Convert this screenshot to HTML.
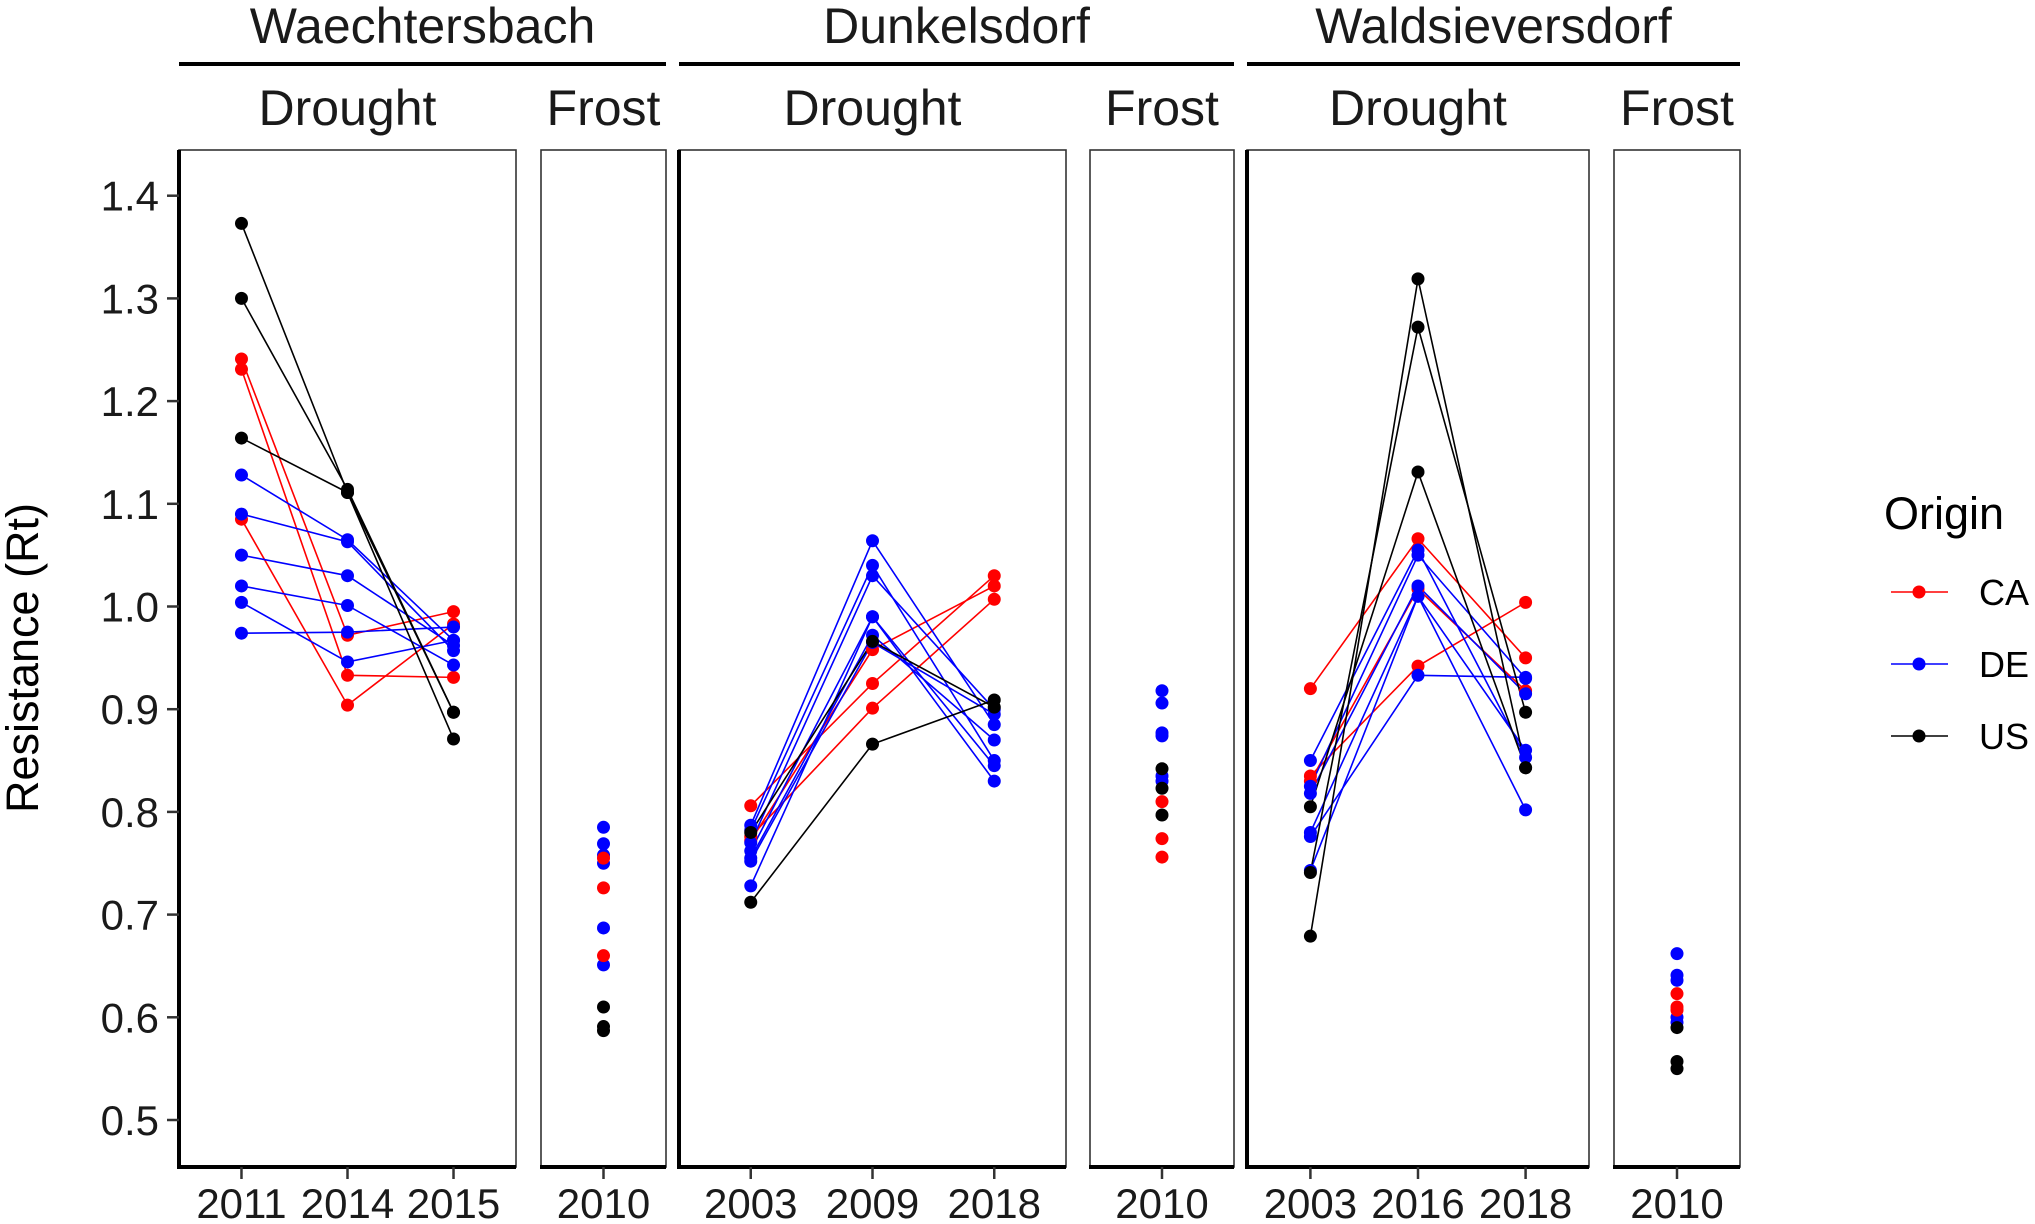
<!DOCTYPE html>
<html><head><meta charset="utf-8"><style>
html,body{margin:0;padding:0;background:#fff}
svg{display:block;font-family:"Liberation Sans",Arial,sans-serif}
</style></head><body>
<svg id="chart" width="2035" height="1224" viewBox="0 0 2035 1224" xmlns="http://www.w3.org/2000/svg">
<text transform="translate(38,658) rotate(-90)" text-anchor="middle" font-size="45" fill="#000">Resistance (Rt)</text>
<text x="1884" y="529" font-size="45" fill="#000">Origin</text>
<g><line x1="1891" y1="592" x2="1948" y2="592" stroke="#f00" stroke-width="1.6"/><circle cx="1919" cy="592" r="6.5" fill="#f00"/><text x="1979" y="605" font-size="36">CA</text></g>
<g><line x1="1891" y1="664" x2="1948" y2="664" stroke="#00f" stroke-width="1.6"/><circle cx="1919" cy="664" r="6.5" fill="#00f"/><text x="1979" y="677" font-size="36">DE</text></g>
<g><line x1="1891" y1="736" x2="1948" y2="736" stroke="#000" stroke-width="1.6"/><circle cx="1919" cy="736" r="6.5" fill="#000"/><text x="1979" y="749" font-size="36">US</text></g>
</svg>
<script>
const yTicks = [0.5,0.6,0.7,0.8,0.9,1.0,1.1,1.2,1.3,1.4];
const sites = ["Waechtersbach","Dunkelsdorf","Waldsieversdorf"];
const wDroughtYears = ["2011","2014","2015"];
const wDroughtCA = [[1.241,0.972,0.995],[1.231,0.933,0.931],[1.085,0.904,0.983]];
const wDroughtDE = [[1.128,1.065,0.967],[1.09,1.063,0.957],[1.05,1.03,0.962],[1.02,1.001,0.943],[1.004,0.946,0.967],[0.974,0.975,0.98]];
const wDroughtUS = [[1.373,1.111,0.871],[1.30,1.114,0.897],[1.164,1.111,0.897]];
const wFrostCA = [0.755,0.726,0.66];
const wFrostDE = [0.785,0.769,0.758,0.75,0.687,0.651];
const wFrostUS = [0.61,0.591,0.587];
const dDroughtYears = ["2003","2009","2018"];
const dDroughtCA = [[0.806,0.925,1.03],[0.776,0.901,1.007],[0.772,0.958,1.02]];
const dDroughtDE = [[0.787,1.064,0.885],[0.782,1.04,0.85],[0.77,1.03,0.9],[0.762,0.99,0.845],[0.755,0.972,0.87],[0.752,0.965,0.895],[0.728,0.99,0.83]];
const dDroughtUS = [[0.712,0.866,0.909],[0.78,0.966,0.902]];
const dFrostCA = [0.81,0.774,0.756];
const dFrostDE = [0.918,0.906,0.877,0.874,0.835,0.83];
const dFrostUS = [0.842,0.823,0.797];
const sDroughtYears = ["2003","2016","2018"];
const sDroughtCA = [[0.92,1.066,0.95],[0.835,0.942,1.004],[0.83,1.017,0.918]];
const sDroughtDE = [[0.85,1.055,0.853],[0.825,1.05,0.93],[0.818,1.02,0.915],[0.78,1.01,0.86],[0.776,0.933,0.931],[0.743,1.01,0.802]];
const sDroughtUS = [[0.679,1.319,0.843],[0.741,1.272,0.897],[0.805,1.131,0.843]];
const sFrostCA = [0.623,0.61,0.607];
const sFrostDE = [0.662,0.641,0.636,0.6,0.595];
const sFrostUS = [0.59,0.557,0.55];
const frostYears = ["2010"];

const NS="http://www.w3.org/2000/svg";
const svg=document.getElementById('chart');
function el(t,a,p){const e=document.createElementNS(NS,t);for(const k in a)e.setAttribute(k,a[k]);(p||svg).appendChild(e);return e;}
const TOP=150,BOT=1167;
function y(v){return 195.7+(1.4-v)*1027;}
const colors={CA:"#f00",DE:"#00f",US:"#000"};

const panels=[
 {x0:179,x1:516,type:"Drought",years:wDroughtYears,data:{CA:wDroughtCA,DE:wDroughtDE,US:wDroughtUS},axis:true},
 {x0:541,x1:666,type:"Frost",years:frostYears,data:{CA:wFrostCA,DE:wFrostDE,US:wFrostUS}},
 {x0:679,x1:1066,type:"Drought",years:dDroughtYears,data:{CA:dDroughtCA,DE:dDroughtDE,US:dDroughtUS},axis:true},
 {x0:1090,x1:1234,type:"Frost",years:frostYears,data:{CA:dFrostCA,DE:dFrostDE,US:dFrostUS}},
 {x0:1247,x1:1589,type:"Drought",years:sDroughtYears,data:{CA:sDroughtCA,DE:sDroughtDE,US:sDroughtUS},axis:true},
 {x0:1614,x1:1740,type:"Frost",years:frostYears,data:{CA:sFrostCA,DE:sFrostDE,US:sFrostUS}}
];
const siteSpans=[[179,666],[679,1234],[1247,1740]];
sites.forEach((s,i)=>{
 const [a,b]=siteSpans[i];
 const t=el('text',{x:(a+b)/2,y:43,'text-anchor':'middle','font-size':'50',fill:'#1a1a1a'});t.textContent=s;
 
 
 const l=el('line',{x1:a,x2:b,y1:64,y2:64,stroke:'#000','stroke-width':4});
 
 
});
panels.forEach((p,pi)=>{
 const g=el('g',{});
 
 
 const st=el('text',{x:(p.x0+p.x1)/2,y:125,'text-anchor':'middle','font-size':'50',fill:'#1a1a1a'},g);st.textContent=p.type;
 
 
 el('rect',{x:p.x0,y:TOP,width:p.x1-p.x0,height:BOT-TOP,fill:'none',stroke:'#333','stroke-width':1.6},g);
 el('line',{x1:p.x0-1,x2:p.x1,y1:BOT,y2:BOT,stroke:'#000','stroke-width':4},g);
 if(p.axis){el('line',{x1:p.x0,x2:p.x0,y1:TOP,y2:BOT+2,stroke:'#000','stroke-width':4},g);}
 const n=p.years.length,w=(p.x1-p.x0);
 function xpos(i){if(n===1)return (p.x0+p.x1)/2;const c=(p.x0+p.x1)/2;return c+(i-1)*w*0.3146;}
 p.years.forEach((yr,i)=>{
  const x=xpos(i);
  el('line',{x1:x,x2:x,y1:BOT,y2:BOT+12,stroke:'#333','stroke-width':2.5},g);
  const t=el('text',{x:x,y:1218,'text-anchor':'middle','font-size':'42',fill:'#1a1a1a'},g);t.textContent=yr;
  
  
 });
 if(p.type==="Drought"){
  ["CA","DE","US"].forEach(o=>{p.data[o].forEach(ser=>{
   const pl=el('polyline',{points:ser.map((v,i)=>xpos(i)+','+y(v)).join(' '),fill:'none',stroke:colors[o],'stroke-width':1.6},g);
   
   
  });});
  ["CA","DE","US"].forEach(o=>{p.data[o].forEach(ser=>{ser.forEach((v,i)=>{
   const c=el('circle',{cx:xpos(i),cy:y(v),r:6.5,fill:colors[o]},g);
   
   
  });});});
 } else {
  ["DE","CA","US"].forEach(o=>{p.data[o].forEach(v=>{
   const c=el('circle',{cx:xpos(0),cy:y(v),r:6.5,fill:colors[o]},g);
   
   
  });});
 }
});
yTicks.forEach(v=>{
 const l=el('line',{x1:167,x2:179,y1:y(v),y2:y(v),stroke:'#333','stroke-width':2.5});
 
 
 const t=el('text',{x:159,y:y(v)+15,'text-anchor':'end','font-size':'42',fill:'#1a1a1a'});t.textContent=v.toFixed(1);
 
 
});
</script>
</body></html>
